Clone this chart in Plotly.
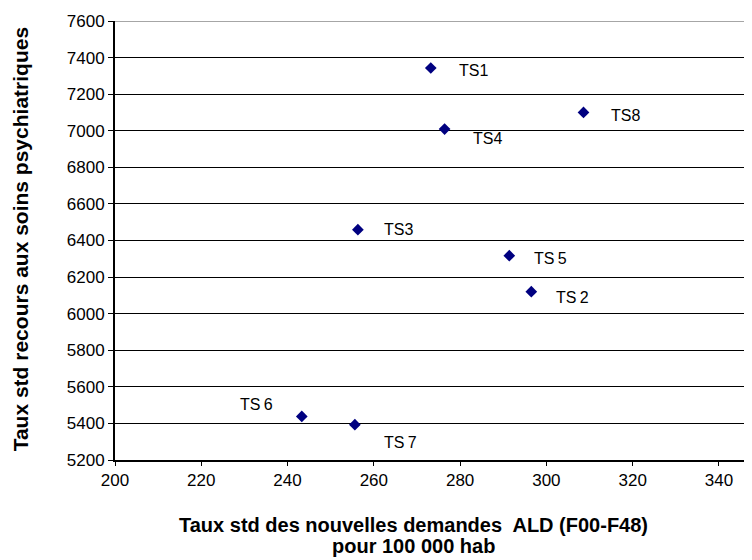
import plotly.graph_objects as go

labels = ["TS1", "TS\u20092", "TS3", "TS4", "TS\u20095", "TS\u20096", "TS\u20097", "TS8"]
x_vals = [273.2, 296.5, 256.3, 276.4, 291.4, 243.3, 255.6, 308.6]
y_vals = [7343, 6120, 6459, 7009, 6317, 5438, 5393, 7100]

x_ticks = [200, 220, 240, 260, 280, 300, 320, 340]
y_ticks = list(range(5200, 7601, 200))

x_title_lines = ["Taux std des nouvelles demandes  ALD (F00-F48)", "pour 100 000 hab"]
y_title = "Taux std recours aux soins psychiatriques"

# label placement (pixel offsets from marker): (xshift, yshift, anchor)
label_offsets = [(26, -2, "left"), (23, -6, "left"), (24, 0, "left"), (26, -9, "left"),
                 (23, -3, "left"), (-27, 12, "right"), (27, -18, "left"), (25, -3, "left")]

FONT = "Liberation Sans, Arial, sans-serif"

# page body has an 8px margin; figure is sized so the plot lands where the reference has it
PAGE_OFF = 8
W, H = 752 - PAGE_OFF, 560 - PAGE_OFF
PLOT_L, PLOT_T, PLOT_B = 115, 21, 460.3   # absolute window pixels
PLOT_W = 752 - PLOT_L
PLOT_H = PLOT_B - PLOT_T


def px_to_paper(px, py):
    return (px - PLOT_L) / PLOT_W, (PLOT_B - py) / PLOT_H


fig = go.Figure()
fig.add_trace(go.Scatter(
    x=x_vals, y=y_vals, mode="markers",
    marker=dict(symbol="diamond", size=9, color="#000080", line=dict(width=0)),
    hoverinfo="skip", showlegend=False,
))

for lab, xv, yv, (dx, dy, anc) in zip(labels, x_vals, y_vals, label_offsets):
    fig.add_annotation(x=xv, y=yv, xref="x", yref="y", text=lab, showarrow=False,
                       xanchor=anc, yanchor="middle", xshift=dx, yshift=dy,
                       font=dict(family=FONT, size=16, color="black"))

for line, cy in zip(x_title_lines, [525, 546]):
    ax, ay = px_to_paper(413, cy)
    fig.add_annotation(x=ax, y=ay, xref="paper", yref="paper",
                       text="<b>" + line + "</b>",
                       showarrow=False, xanchor="center", yanchor="middle",
                       font=dict(family=FONT, size=20, color="black"))

tx, ty = px_to_paper(20, 239.5)
fig.add_annotation(x=tx, y=ty, xref="paper", yref="paper",
                   text="<b>" + y_title + "</b>", textangle=-90,
                   showarrow=False, xanchor="center", yanchor="middle",
                   font=dict(family=FONT, size=21, color="black"))

# top border in grey
fig.add_shape(type="line", xref="paper", yref="y", x0=0, x1=1, y0=7600, y1=7600,
              line=dict(color="#888888", width=1.5), layer="above")

fig.update_layout(
    width=W, height=H,
    margin=dict(l=PLOT_L - PAGE_OFF, r=0, t=PLOT_T - PAGE_OFF, b=round(560 - PLOT_B), pad=0),
    paper_bgcolor="white", plot_bgcolor="white",
    font=dict(family=FONT, size=17, color="black"),
    xaxis=dict(range=[200, 347.66], tickvals=x_ticks, showgrid=False, zeroline=False,
               showline=True, linecolor="black", linewidth=2,
               ticks="outside", ticklen=4, tickcolor="black", tickwidth=1,
               tickfont=dict(family=FONT, size=17, color="black")),
    yaxis=dict(range=[5200, 7600], tickvals=y_ticks, showgrid=True, gridcolor="black",
               gridwidth=1, zeroline=False,
               showline=True, linecolor="black", linewidth=2,
               ticks="outside", ticklen=5, tickcolor="black", tickwidth=1,
               tickfont=dict(family=FONT, size=17, color="black")),
)

fig.write_html("out.html")
